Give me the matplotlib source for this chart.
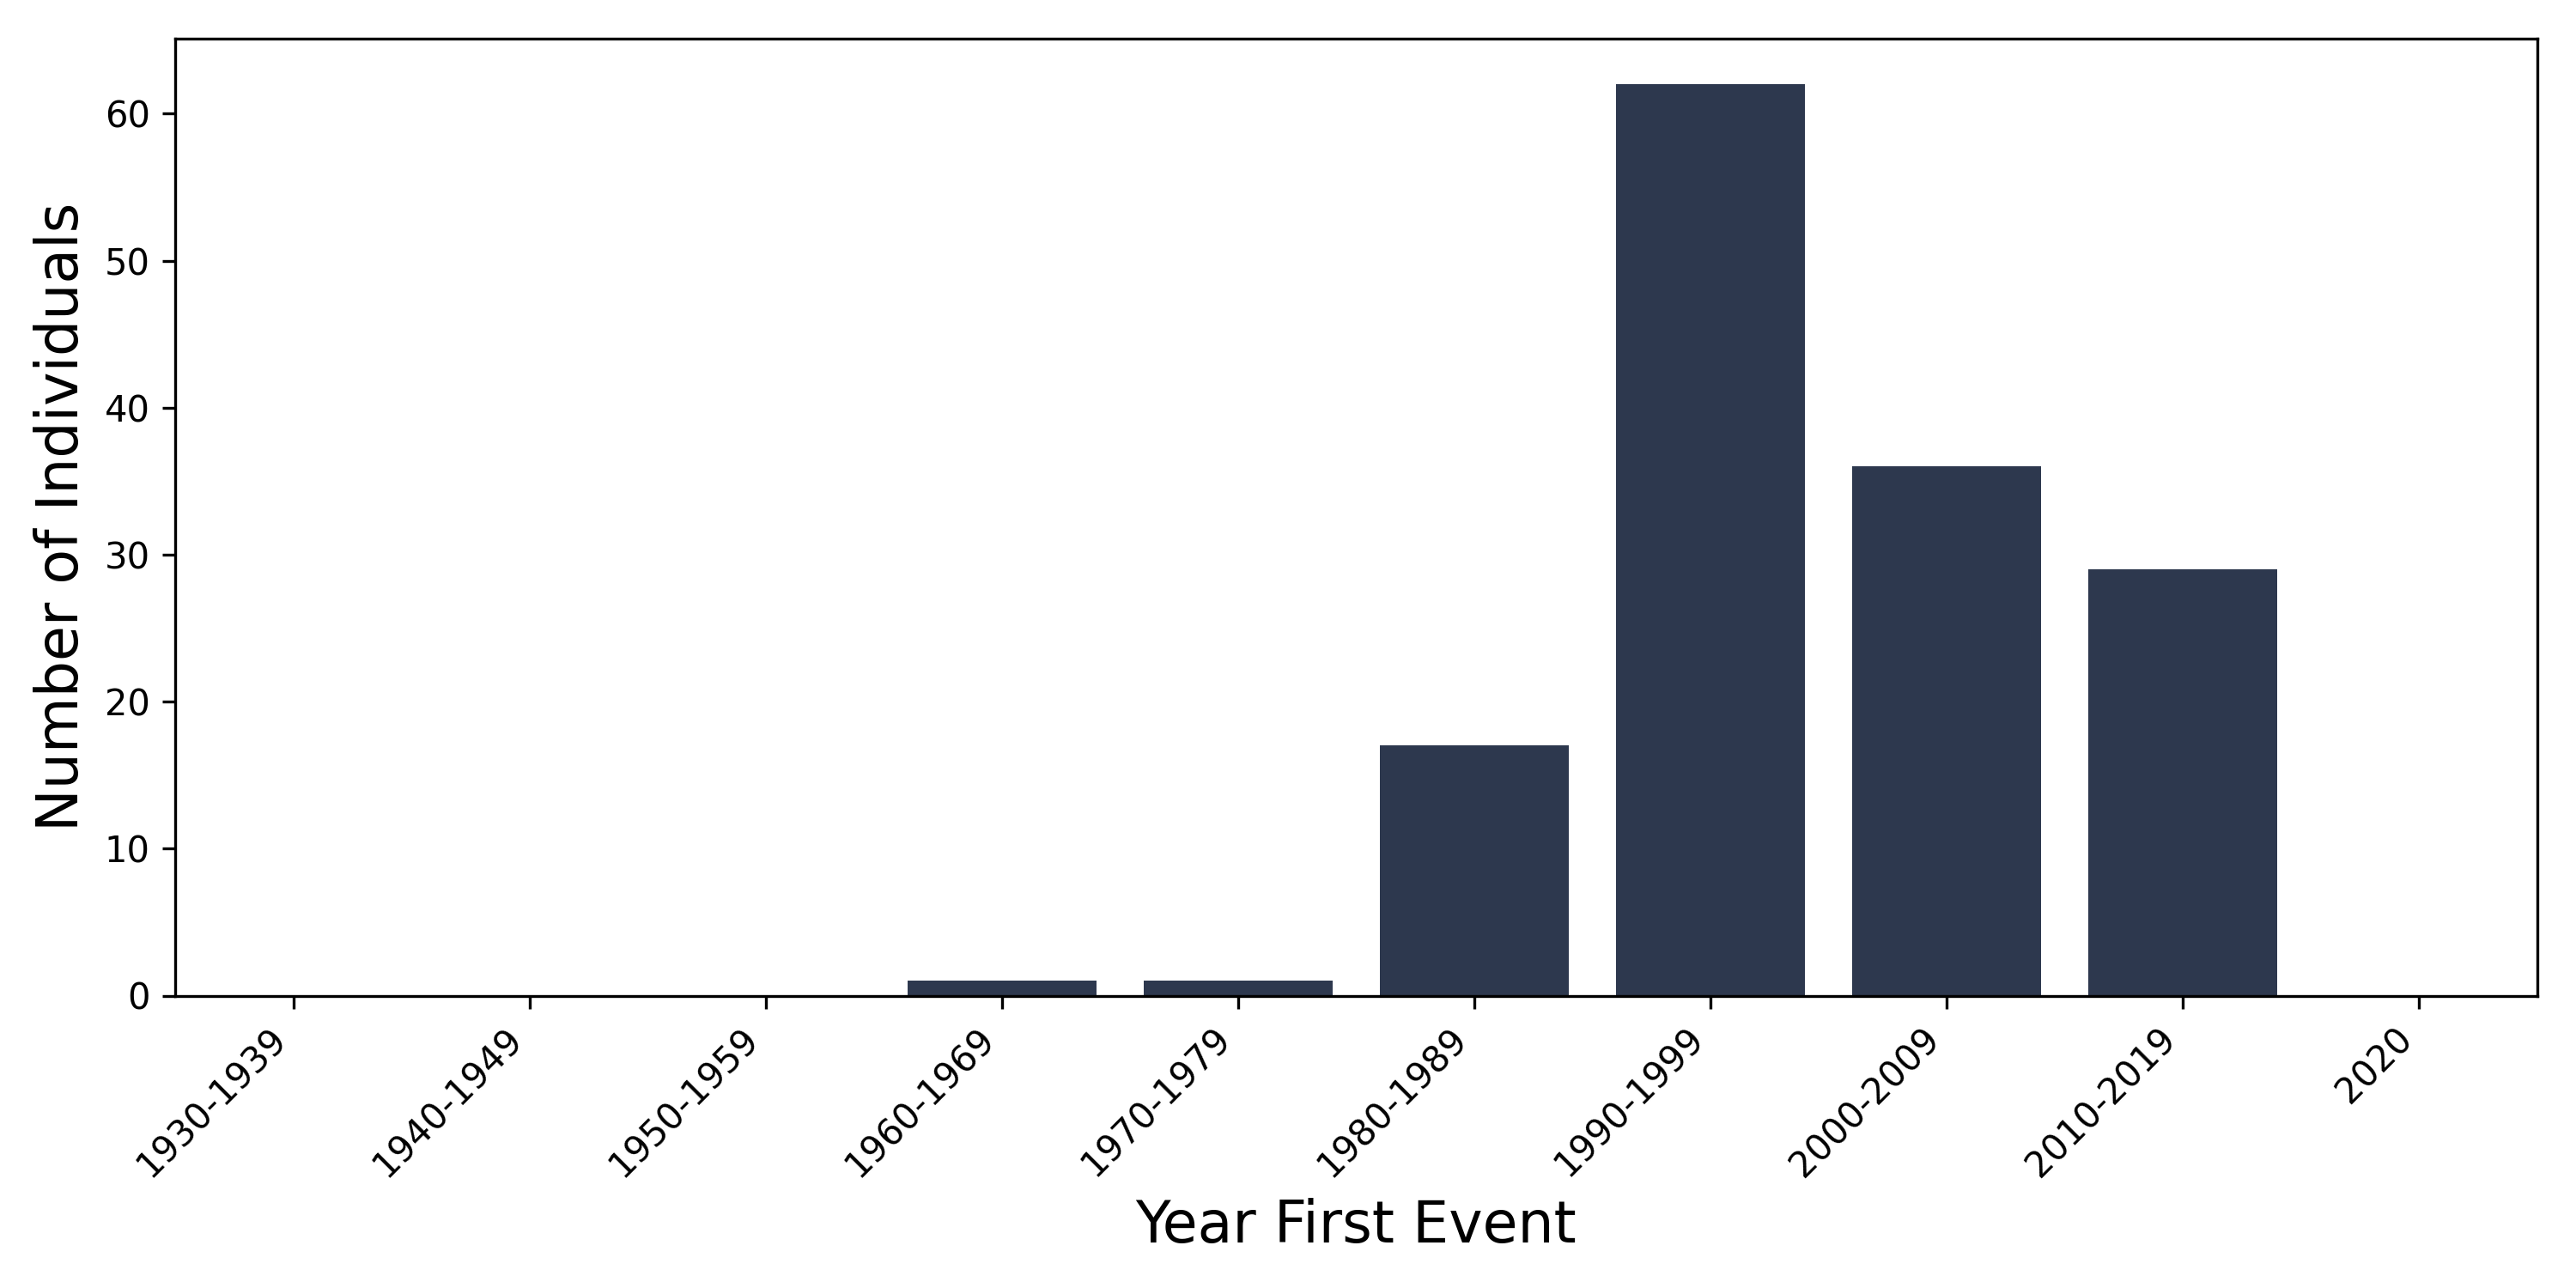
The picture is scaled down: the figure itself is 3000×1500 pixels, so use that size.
import numpy as np
import matplotlib.pyplot as plt

'''Data'''
decades = ['1930-1939', '1940-1949', '1950-1959', '1960-1969', '1970-1979',
           '1980-1989', '1990-1999', '2000-2009', '2010-2019', '2020']
counts = [0, 0, 0, 1, 1, 17, 62, 36, 29, 0]

'''Plotting'''
fig, ax = plt.subplots(figsize=(10, 5), dpi=300)
x = np.arange(len(decades))
ax.bar(x, counts, width=0.8, color='#2d384e')
ax.set_xlim(-0.5, len(decades) - 0.5)
ax.set_xticks(x)
ax.set_xticklabels(decades, rotation=45, ha='right', fontsize=10)
ax.tick_params(axis='y', labelsize=10)
ax.set_xlabel('Year First Event', fontsize=16)
ax.set_ylabel('Number of Individuals', fontsize=16)
plt.subplots_adjust(left=0.068, right=0.985, top=0.97, bottom=0.227)
plt.savefig('out.png')
